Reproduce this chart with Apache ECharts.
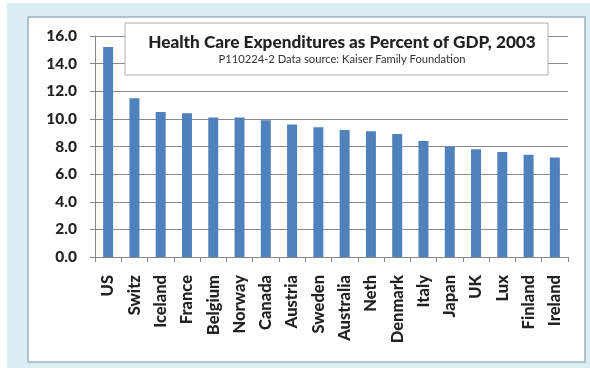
<!DOCTYPE html>
<html><head><meta charset="utf-8">
<script src="https://cdn.jsdelivr.net/npm/echarts@6/dist/echarts.min.js"></script>
<style>html,body{margin:0;padding:0;background:#fff;}#c{width:590px;height:368px;}</style>
</head><body><div id="c"></div>
<script>
var categories = ["US","Switz","Iceland","France","Belgium","Norway","Canada","Austria","Sweden","Australia","Neth","Denmark","Italy","Japan","UK","Lux","Finland","Ireland"];
var values = [15.2,11.5,10.5,10.4,10.1,10.1,9.9,9.6,9.4,9.2,9.1,8.9,8.4,8.0,7.8,7.6,7.4,7.2];
var titleText = "Health Care Expenditures as Percent of GDP, 2003";
var subtitleText = "P110224-2 Data source: Kaiser Family Foundation";

var chart = echarts.init(document.getElementById('c'));
var font = "Lato";
chart.setOption({
  animation: false,
  graphic: [
    {type:'rect', z:-10, shape:{x:7,y:3,width:583,height:365}, style:{fill:'#dcedf4'}},
    {type:'rect', z:-9, shape:{x:28,y:17,width:557,height:345}, style:{fill:'#fff', stroke:'#9fb3bd', lineWidth:1.5}},
    {type:'rect', z:10, shape:{x:125,y:23,width:423,height:52}, style:{fill:'#fff', stroke:'#b0b0b0', lineWidth:1}}
  ],
  title: {
    text: titleText,
    subtext: subtitleText,
    left: 337, top: 29, textAlign: 'center', itemGap: 3, z: 20,
    textStyle: {fontFamily: font, fontWeight: 900, fontSize: 17.2, color: '#222'},
    subtextStyle: {fontFamily: font, fontSize: 11.2, color: '#333'}
  },
  grid: {left: 95, top: 36, right: 22, bottom: 111},
  xAxis: {
    type: 'category', data: categories,
    axisLine: {lineStyle: {color: '#888'}},
    axisTick: {show: true, length: 5, lineStyle: {color: '#888'}},
    axisLabel: {rotate: 90, fontFamily: font, fontWeight: 900, fontSize: 16.5, color: '#222', margin: 18, interval: 0}
  },
  yAxis: {
    type: 'value', min: 0, max: 16, interval: 2,
    axisLine: {show: true, lineStyle: {color: '#888'}},
    axisTick: {show: true, length: 5, inside: false, lineStyle: {color: '#888'}},
    splitLine: {lineStyle: {color: '#8a8a8a'}},
    axisLabel: {formatter: function(v){return v.toFixed(1);}, fontFamily: font, fontWeight: 900, fontSize: 15.5, color: '#222', margin: 18}
  },
  series: [{
    type: 'bar', data: values, barWidth: '38%',
    itemStyle: {color: '#4f81bd'}
  }]
});
</script>
</body></html>
